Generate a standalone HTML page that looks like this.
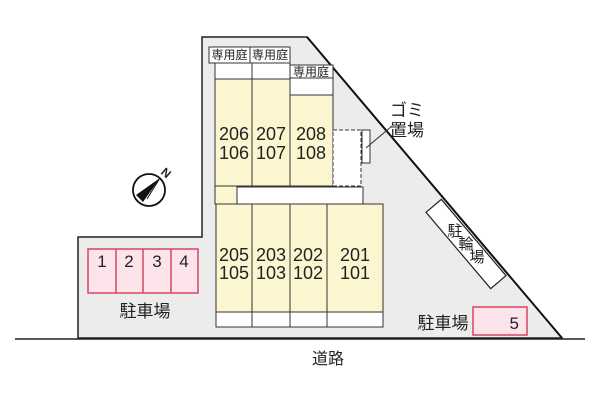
<!DOCTYPE html>
<html><head><meta charset="utf-8"><style>
html,body{margin:0;padding:0;background:#fff}
svg{display:block}
text{font-family:"Liberation Sans","Noto Sans CJK JP",sans-serif;fill:#222}
</style></head><body>
<svg width="600" height="400" viewBox="0 0 600 400" xmlns="http://www.w3.org/2000/svg">
<polygon points="202,37 307,37 562,338 78,338 78,237 202,237" fill="#ececec" stroke="#222" stroke-width="1.5"/>
<line x1="307" y1="37" x2="562" y2="338" stroke="#111" stroke-width="2"/>
<line x1="15" y1="339" x2="585" y2="339" stroke="#222" stroke-width="1.5"/>
<rect x="209" y="47" width="81" height="16" fill="#fff" stroke="#333"/>
<line x1="250" y1="47" x2="250" y2="63" stroke="#333"/>
<text x="229.5" y="59" font-size="12" text-anchor="middle">専用庭</text>
<text x="270" y="59" font-size="12" text-anchor="middle">専用庭</text>
<rect x="215" y="63" width="75" height="16" fill="#fff" stroke="#333"/>
<line x1="252" y1="63" x2="252" y2="79" stroke="#333"/>
<rect x="290" y="65" width="43" height="13" fill="#fff" stroke="#333"/>
<text x="311" y="76" font-size="12" text-anchor="middle">専用庭</text>
<rect x="290" y="78" width="43" height="17" fill="#fff" stroke="#333"/>
<rect x="215" y="79" width="37" height="107" fill="#fbf6cf" stroke="#333"/>
<rect x="252" y="79" width="38" height="107" fill="#fbf6cf" stroke="#333"/>
<rect x="290" y="95" width="43" height="91" fill="#fbf6cf" stroke="#333"/>
<rect x="215" y="186" width="22" height="18" fill="#fbf6cf" stroke="#333"/>
<rect x="333" y="130" width="28" height="56" fill="#fff" stroke="#333" stroke-dasharray="4,2"/>
<rect x="362" y="130" width="8" height="33" fill="#fff" stroke="#333"/>
<line x1="366" y1="148" x2="392" y2="126" stroke="#333"/>
<text x="407" y="116" font-size="17" text-anchor="middle">ゴミ</text>
<text x="407" y="136" font-size="17" text-anchor="middle">置場</text>
<rect x="237" y="187" width="126" height="17" fill="#fff" stroke="#333"/>
<rect x="216" y="204" width="36" height="108" fill="#fbf6cf" stroke="#333"/>
<rect x="252" y="204" width="38" height="108" fill="#fbf6cf" stroke="#333"/>
<rect x="290" y="204" width="37" height="108" fill="#fbf6cf" stroke="#333"/>
<rect x="327" y="204" width="56" height="108" fill="#fbf6cf" stroke="#333"/>
<rect x="216" y="312" width="167" height="15" fill="#fff" stroke="#333"/>
<line x1="252" y1="312" x2="252" y2="327" stroke="#333"/>
<line x1="290" y1="312" x2="290" y2="327" stroke="#333"/>
<line x1="327" y1="312" x2="327" y2="327" stroke="#333"/>
<g font-size="18" text-anchor="middle">
<text x="234" y="140">206</text><text x="234" y="159">106</text>
<text x="271" y="140">207</text><text x="271" y="159">107</text>
<text x="311" y="140">208</text><text x="311" y="159">108</text>
<text x="234" y="261">205</text><text x="234" y="279">105</text>
<text x="271" y="261">203</text><text x="271" y="279">103</text>
<text x="308" y="261">202</text><text x="308" y="279">102</text>
<text x="355" y="261">201</text><text x="355" y="279">101</text>
</g>
<rect x="88" y="249" width="110" height="44" fill="#fde4ec" stroke="#d9455f" stroke-width="1.5"/>
<line x1="116" y1="249" x2="116" y2="293" stroke="#d9455f" stroke-width="1.5"/>
<line x1="143" y1="249" x2="143" y2="293" stroke="#d9455f" stroke-width="1.5"/>
<line x1="171" y1="249" x2="171" y2="293" stroke="#d9455f" stroke-width="1.5"/>
<g font-size="17" text-anchor="middle">
<text x="102" y="267">1</text><text x="129" y="267">2</text><text x="157" y="267">3</text><text x="184" y="267">4</text>
</g>
<text x="145" y="317" font-size="17" text-anchor="middle">駐車場</text>
<rect x="473" y="307" width="54" height="28" fill="#fde4ec" stroke="#d9455f" stroke-width="1.5"/>
<text x="519" y="329" font-size="17" text-anchor="end">5</text>
<text x="443" y="329" font-size="17" text-anchor="middle">駐車場</text>
<g transform="translate(466,244) rotate(49.7)">
<rect x="-50" y="-10" width="100" height="20" fill="#fff" stroke="#222" stroke-width="1.2"/>
<text x="-17" y="5" font-size="15" text-anchor="middle" transform="rotate(-49.7 -17 0)">駐</text>
<text x="0" y="5" font-size="15" text-anchor="middle" transform="rotate(-49.7 0 0)">輪</text>
<text x="17" y="5" font-size="15" text-anchor="middle" transform="rotate(-49.7 17 0)">場</text>
</g>
<circle cx="149" cy="190" r="16" fill="#fff" stroke="#111" stroke-width="1.8"/>
<polygon points="160,178 143,202 136,195" fill="#111"/>
<line x1="160" y1="178" x2="147" y2="199" stroke="#111"/>
<text x="166" y="177" font-size="12" font-weight="bold" text-anchor="middle" transform="rotate(40 166 173)">N</text>
<text x="328" y="364" font-size="16" text-anchor="middle">道路</text>
</svg>
</body></html>
